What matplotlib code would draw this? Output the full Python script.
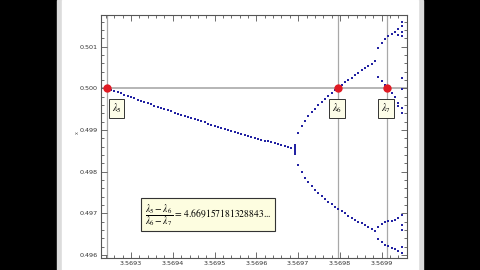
import matplotlib.pyplot as plt
from matplotlib.patches import Rectangle
from matplotlib.ticker import AutoMinorLocator

plt.rcParams['mathtext.fontset'] = 'stix'

# superstable parameter values
lam5 = 3.5692435
lam6 = 3.5697952
lam7 = 3.5699134

# parameter values that were sampled
r_vals = [3.569244, 3.569252, 3.569260, 3.569268, 3.569276, 3.569284, 3.569292, 3.569300,
          3.569308, 3.569316, 3.569324, 3.569332, 3.569340, 3.569348, 3.569356, 3.569364,
          3.569372, 3.569380, 3.569388, 3.569396, 3.569404, 3.569412, 3.569420, 3.569428,
          3.569436, 3.569444, 3.569452, 3.569460, 3.569468, 3.569476, 3.569484, 3.569492,
          3.569500, 3.569508, 3.569516, 3.569524, 3.569532, 3.569540, 3.569548, 3.569556,
          3.569564, 3.569572, 3.569580, 3.569588, 3.569596, 3.569604, 3.569612, 3.569620,
          3.569628, 3.569636, 3.569644, 3.569652, 3.569660, 3.569668, 3.569676, 3.569684,
          3.569692, 3.569700, 3.569708, 3.569716, 3.569724, 3.569732, 3.569740, 3.569748,
          3.569756, 3.569764, 3.569772, 3.569780, 3.569788, 3.569796, 3.569804, 3.569812,
          3.569820, 3.569828, 3.569836, 3.569844, 3.569852, 3.569860, 3.569868, 3.569876,
          3.569884, 3.569892, 3.569900, 3.569908, 3.569916, 3.569924, 3.569932, 3.569940,
          3.569948]

# one branch (r_vals[0:56])
y_single = [0.500000, 0.499969, 0.499939, 0.499908, 0.499878, 0.499848, 0.499818, 0.499788,
            0.499759, 0.499729, 0.499700, 0.499671, 0.499642, 0.499614, 0.499585, 0.499557,
            0.499529, 0.499501, 0.499473, 0.499446, 0.499418, 0.499391, 0.499364, 0.499338,
            0.499311, 0.499284, 0.499258, 0.499232, 0.499206, 0.499181, 0.499155, 0.499130,
            0.499105, 0.499080, 0.499055, 0.499030, 0.499006, 0.498982, 0.498957, 0.498934,
            0.498910, 0.498886, 0.498863, 0.498840, 0.498817, 0.498794, 0.498772, 0.498749,
            0.498727, 0.498705, 0.498683, 0.498661, 0.498640, 0.498618, 0.498597, 0.498576]
# spread at the bifurcation (r_vals[56])
y_cluster = [0.49864, 0.49859, 0.49855, 0.49851, 0.49847, 0.49843]

# two branches (r_vals[57:81])
y_upper = [0.498937, 0.499098, 0.499223, 0.499331, 0.499427, 0.499515, 0.499597, 0.499675,
           0.499748, 0.499819, 0.499887, 0.499953, 0.500018, 0.500080, 0.500141, 0.500201,
           0.500260, 0.500317, 0.500374, 0.500430, 0.500485, 0.500540, 0.500594, 0.500648]
y_lower = [0.498153, 0.497987, 0.497859, 0.497752, 0.497657, 0.497571, 0.497492, 0.497419,
           0.497350, 0.497285, 0.497223, 0.497163, 0.497107, 0.497052, 0.496999, 0.496948,
           0.496899, 0.496851, 0.496804, 0.496759, 0.496714, 0.496671, 0.496629, 0.496587]

# four branches (r_vals[81:87])
y_uu = [0.500960, 0.501080, 0.501183, 0.501263, 0.501315, 0.501351]
y_ul = [0.500271, 0.500175, 0.500072, 0.499971, 0.499892, 0.499803]
y_lu = [0.496683, 0.496743, 0.496784, 0.496808, 0.496815, 0.496851]
y_ll = [0.496395, 0.496311, 0.496251, 0.496207, 0.496174, 0.496135]

# last two samples
y_r87 = [0.501423, 0.501291, 0.499659, 0.499575, 0.496899, 0.496095]
y_r88 = [0.501599, 0.501507, 0.501359, 0.501255, 0.500240, 0.499983, 0.499520, 0.499400,
         0.496959, 0.496731, 0.496611, 0.496191, 0.496039]

x_ticks = [3.5693, 3.5694, 3.5695, 3.5696, 3.5697, 3.5698, 3.5699]
y_ticks = [0.496, 0.497, 0.498, 0.499, 0.500, 0.501]

fig = plt.figure(figsize=(4.8, 2.7), dpi=100, facecolor='black')

# page background behind the plot
bg = fig.add_axes([0, 0, 1, 1], zorder=-10)
bg.set_xlim(0, 480)
bg.set_ylim(0, 270)
bg.axis('off')
bg.add_patch(Rectangle((57, 0), 366, 270, color='#dcdcdc'))
bg.add_patch(Rectangle((62, 0), 356, 270, color='white'))

ax = fig.add_axes([101 / 480, 12 / 270, 306 / 480, 243 / 270])
ax.set_facecolor('white')
ax.set_xlim(3.569228, 3.5699605)
ax.set_ylim(0.49593, 0.50176)

# grid lines through the superstable points
ax.axhline(0.5, color='#b0b0b0', lw=1.3, zorder=1)
for lam in (lam5, lam6, lam7):
    ax.axvline(lam, color='#a8a8a8', lw=0.9, zorder=1)

dot = dict(ls='none', marker='s', ms=2.0, color='#2323a3', mew=0, zorder=3)
ax.plot(r_vals[0:56], y_single, **dot)
ax.plot([r_vals[56]] * len(y_cluster), y_cluster, **dot)
ax.plot(r_vals[57:81], y_upper, **dot)
ax.plot(r_vals[57:81], y_lower, **dot)
for ys in (y_uu, y_ul, y_lu, y_ll):
    ax.plot(r_vals[81:87], ys, **dot)
ax.plot([r_vals[87]] * len(y_r87), y_r87, **dot)
ax.plot([r_vals[88]] * len(y_r88), y_r88, **dot)

ax.plot([lam5, lam6, lam7], [0.5, 0.5, 0.5], ls='none', marker='o', ms=6,
        color='#e01b24', mew=0, zorder=4)

box = dict(boxstyle='square,pad=0.3', fc='#fdfde8', ec='#333333', lw=0.7)
for lam, name, dx in ((lam5, r'$\lambda_5$', 9), (lam6, r'$\lambda_6$', -1), (lam7, r'$\lambda_7$', -1)):
    ax.annotate(name, (lam, 0.5), xytext=(dx, -20), textcoords='offset pixels',
                ha='center', va='center', fontsize=7.2, bbox=box, zorder=5)

ax.text(0.35, 0.179,
        r'$\dfrac{\lambda_5-\lambda_6}{\lambda_6-\lambda_7}$ = 4.669157181328843...',
        transform=ax.transAxes, ha='center', va='center', fontsize=6.9,
        family='STIXGeneral',
        bbox=dict(boxstyle='square,pad=0.4', fc='#fdfde0', ec='#333333', lw=0.8), zorder=5)

ax.set_xticks(x_ticks)
ax.set_xticklabels([f'{v:.4f}' for v in x_ticks])
ax.set_yticks(y_ticks)
ax.set_yticklabels([f'{v:.3f}' for v in y_ticks])
ax.xaxis.set_minor_locator(AutoMinorLocator(5))
ax.yaxis.set_minor_locator(AutoMinorLocator(5))
ax.tick_params(which='both', direction='in', top=True, right=True, color='#555555',
               labelsize=4.6, labelcolor='#333333', pad=2.5, width=0.6)
ax.tick_params(which='major', length=4)
ax.tick_params(which='minor', length=2)
for s in ax.spines.values():
    s.set_color('#555555')
    s.set_linewidth(0.8)

fig.text(77 / 480, 1 - 133 / 270, 'x', fontsize=3.5, color='#555555',
         ha='center', va='center', rotation=90)

fig.savefig('out.png', dpi=100, facecolor=fig.get_facecolor())
